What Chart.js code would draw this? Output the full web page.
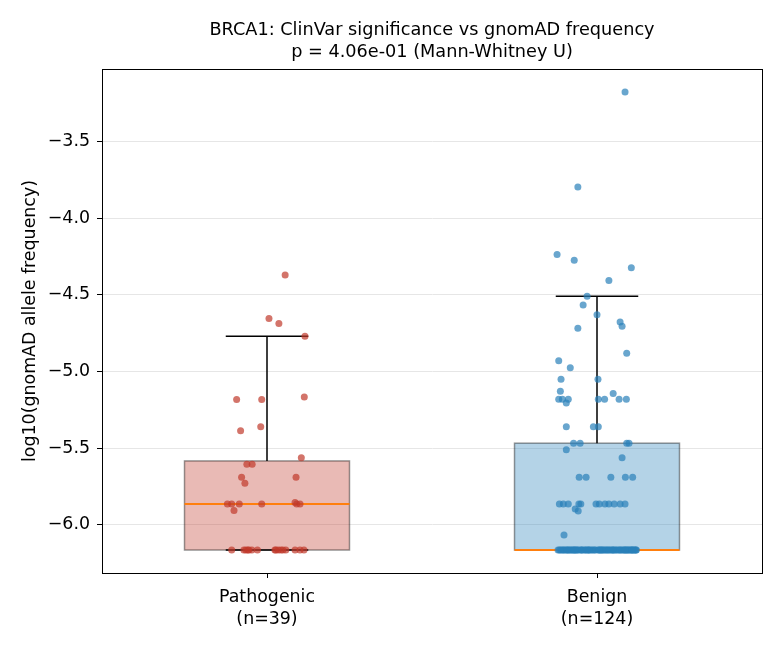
<!DOCTYPE html>
<html>
<head>
<meta charset="utf-8">
<title>BRCA1 ClinVar vs gnomAD</title>
<script src="https://cdn.jsdelivr.net/npm/chart.js@4.4.1/dist/chart.umd.min.js"></script>
<style>
  html, body { margin: 0; padding: 0; background: #fff; }
  #wrap { width: 780px; height: 650px; }
</style>
</head>
<body>
<div id="wrap"><canvas id="chart" width="780" height="650"></canvas></div>
<script>
// --- data ---
const categories = ['Pathogenic', 'Benign'];
const titleLines = ['BRCA1: ClinVar significance vs gnomAD frequency', 'p = 4.06e-01 (Mann-Whitney U)'];
const yAxisLabel = 'log10(gnomAD allele frequency)';
const yTicks = [-6.0, -5.5, -5.0, -4.5, -4.0, -3.5];

const pathogenicValues = [
  -4.370, -4.653, -4.687, -4.770, -5.183, -5.183, -5.166, -5.387, -5.361, -5.563,
  -5.605, -5.605, -5.690, -5.690, -5.730, -5.866, -5.866, -5.866, -5.866, -5.855,
  -5.866, -5.866, -5.907,
  -6.166, -6.166, -6.166, -6.166, -6.166, -6.166, -6.166, -6.166, -6.166, -6.166,
  -6.166, -6.166, -6.166, -6.166, -6.166, -6.166
];
const pathogenicJitter = [
  0.055, 0.006, 0.036, 0.115, -0.092, -0.016, 0.113, -0.080, -0.019, 0.104,
  -0.061, -0.045, -0.077, 0.088, -0.067, -0.120, -0.107, -0.084, -0.016, 0.085,
  0.090, 0.100, -0.100,
  -0.107, -0.064, -0.058, -0.046, -0.029, 0.024, 0.034, 0.042, 0.057, 0.085,
  0.112, -0.055, 0.027, 0.048, 0.100, -0.070
];

const benignValues = [
  -3.174, -3.794, -4.235, -4.274, -4.322, -4.405, -4.509, -4.565, -4.629, -4.676,
  -4.705, -4.718, -4.881, -4.929, -4.976, -5.050, -5.050, -5.129, -5.144, -5.181,
  -5.181, -5.181, -5.181, -5.181, -5.181, -5.181, -5.205, -5.361, -5.361, -5.361,
  -5.468, -5.468, -5.468, -5.468, -5.511, -5.563, -5.690, -5.690, -5.690, -5.690,
  -5.690, -5.866, -5.866, -5.866, -5.866, -5.866, -5.866, -5.866, -5.866, -5.866,
  -5.866, -5.866, -5.866, -5.898, -5.911, -6.068,
  -6.166, -6.166, -6.166, -6.166, -6.166, -6.166, -6.166, -6.166, -6.166, -6.166,
  -6.166, -6.166, -6.166, -6.166, -6.166, -6.166, -6.166, -6.166, -6.166, -6.166,
  -6.166, -6.166, -6.166, -6.166, -6.166, -6.166, -6.166, -6.166, -6.166, -6.166,
  -6.166, -6.166, -6.166, -6.166, -6.166, -6.166, -6.166, -6.166, -6.166, -6.166,
  -6.166, -6.166, -6.166, -6.166, -6.166, -6.166, -6.166, -6.166, -6.166, -6.166,
  -6.166, -6.166, -6.166, -6.166, -6.166, -6.166, -6.166, -6.166, -6.166, -6.166,
  -6.166, -6.166, -6.166, -6.166, -6.166, -6.166, -6.166, -6.166
];
const benignJitter = [
  0.085, -0.058, -0.121, -0.069, 0.104, 0.036, -0.030, -0.042, 0.000, 0.070,
  0.076, -0.058, 0.090, -0.116, -0.081, -0.109, 0.003, -0.111, 0.049, -0.116,
  -0.105, -0.087, 0.004, 0.023, 0.067, 0.089, -0.093, -0.093, -0.011, 0.004,
  -0.071, -0.051, 0.090, 0.097, -0.093, 0.076, -0.054, -0.033, 0.042, 0.086,
  0.108, -0.114, -0.102, -0.087, -0.055, -0.049, -0.003, 0.007, 0.024, 0.036,
  0.052, 0.070, 0.085, -0.066, -0.057, -0.100,
  -0.118, 0.064, -0.031, 0.097, -0.085, 0.012, 0.118, -0.056, 0.041, -0.102,
  0.079, -0.013, 0.026, -0.071, 0.108, -0.044, 0.003, 0.088, -0.094, 0.051,
  -0.022, 0.115, -0.063, 0.033, -0.110, 0.071, -0.005, 0.094, -0.078, 0.018,
  -0.038, 0.059, 0.101, -0.088, 0.009, -0.049, 0.083, -0.114, 0.046, -0.027,
  0.112, -0.066, 0.022, 0.075, -0.099, -0.008, 0.037, -0.059, 0.104, -0.035,
  0.068, -0.081, 0.015, 0.091, -0.106, 0.055, -0.017, 0.030, -0.074, 0.119,
  -0.047, 0.006, 0.085, -0.091, 0.048, -0.025, 0.107, -0.068
];

const FONT = "'DejaVu Sans', sans-serif";
const BOX_HALF = 0.25;
const CAP_HALF = 0.125;

const groups = [
  { values: pathogenicValues, jitter: pathogenicJitter, point: 'rgba(192, 57, 43, 0.7)', box: 'rgba(192, 57, 43, 0.35)' },
  { values: benignValues, jitter: benignJitter, point: 'rgba(41, 128, 185, 0.7)', box: 'rgba(41, 128, 185, 0.35)' },
];

// matplotlib-style percentile (linear)
function quantile(sorted, q) {
  const pos = (sorted.length - 1) * q;
  const lo = Math.floor(pos), hi = Math.ceil(pos);
  return sorted[lo] + (sorted[hi] - sorted[lo]) * (pos - lo);
}

function boxStats(values) {
  const s = [...values].sort((a, b) => a - b);
  const q1 = quantile(s, 0.25), med = quantile(s, 0.5), q3 = quantile(s, 0.75);
  const iqr = q3 - q1;
  const whiskHi = Math.max(...s.filter(v => v <= q3 + 1.5 * iqr));
  const whiskLo = Math.min(...s.filter(v => v >= q1 - 1.5 * iqr));
  return { q1, med, q3, whiskLo, whiskHi };
}

// box + whiskers under the points
const boxPlugin = {
  id: 'boxes',
  beforeDatasetsDraw(chart) {
    const { ctx, scales: { x, y } } = chart;
    groups.forEach((g, i) => {
      const st = boxStats(g.values);
      const xl = x.getPixelForValue(i - BOX_HALF);
      const xr = x.getPixelForValue(i + BOX_HALF);
      const xc = x.getPixelForValue(i);
      const cl = x.getPixelForValue(i - CAP_HALF);
      const cr = x.getPixelForValue(i + CAP_HALF);
      const yq1 = y.getPixelForValue(st.q1);
      const yq3 = y.getPixelForValue(st.q3);
      const ymed = y.getPixelForValue(st.med);
      const yhi = y.getPixelForValue(st.whiskHi);
      const ylo = y.getPixelForValue(st.whiskLo);

      ctx.save();
      ctx.fillStyle = g.box;
      ctx.fillRect(xl, yq3, xr - xl, yq1 - yq3);
      ctx.strokeStyle = 'rgba(0, 0, 0, 0.4)';
      ctx.lineWidth = 1.5;
      ctx.strokeRect(xl, yq3, xr - xl, yq1 - yq3);

      ctx.strokeStyle = '#000';
      ctx.lineWidth = 1.5;
      ctx.beginPath();
      ctx.moveTo(xc, yq3); ctx.lineTo(xc, yhi);
      ctx.moveTo(xc, yq1); ctx.lineTo(xc, ylo);
      ctx.moveTo(cl, yhi); ctx.lineTo(cr, yhi);
      ctx.moveTo(cl, ylo); ctx.lineTo(cr, ylo);
      ctx.stroke();

      ctx.strokeStyle = '#ff7f0e';
      ctx.lineWidth = 2;
      ctx.beginPath();
      ctx.moveTo(xl, ymed); ctx.lineTo(xr, ymed);
      ctx.stroke();
      ctx.restore();
    });
  }
};

// axes frame + title centred over the axes
const framePlugin = {
  id: 'frame',
  afterDraw(chart) {
    const { ctx, chartArea: a } = chart;
    ctx.save();
    ctx.strokeStyle = '#000';
    ctx.lineWidth = 1;
    ctx.strokeRect(Math.round(a.left) + 0.5, Math.round(a.top) + 0.5,
      Math.round(a.right - a.left), Math.round(a.bottom - a.top));
    ctx.fillStyle = '#000';
    ctx.font = '17.7px ' + FONT;
    ctx.textAlign = 'center';
    ctx.textBaseline = 'middle';
    const cx = (a.left + a.right) / 2;
    titleLines.forEach((t, i) => ctx.fillText(t, cx, 30 + i * 22));
    ctx.restore();
  }
};

const datasets = groups.map((g, i) => ({
  type: 'scatter',
  label: categories[i],
  data: g.values.map((v, k) => ({ x: i + g.jitter[k], y: v })),
  pointRadius: 3.5,
  pointHoverRadius: 3.5,
  pointBackgroundColor: g.point,
  pointBorderWidth: 0,
}));

new Chart(document.getElementById('chart'), {
  type: 'scatter',
  data: { datasets },
  plugins: [boxPlugin, framePlugin],
  options: {
    responsive: false,
    animation: false,
    layout: { padding: { top: 69, right: 18, bottom: 0, left: 0 } },
    plugins: {
      legend: { display: false },
      tooltip: { enabled: false },
      title: { display: false },
    },
    scales: {
      x: {
        type: 'linear',
        min: -0.5,
        max: 1.5,
        afterBuildTicks: s => { s.ticks = [{ value: 0 }, { value: 1 }]; },
        afterFit: s => { s.height = 77; },
        ticks: {
          color: '#000',
          font: { family: FONT, size: 17.4, lineHeight: 1.27 },
          padding: 8,
          maxRotation: 0,
          callback: v => [categories[v], '(n=' + groups[v].values.length + ')'],
        },
        grid: { drawOnChartArea: false, tickColor: '#000', tickLength: 5 },
        border: { color: '#000', width: 1 },
      },
      y: {
        min: -6.316,
        max: -3.024,
        afterBuildTicks: s => { s.ticks = yTicks.map(v => ({ value: v })); },
        afterFit: s => { s.width = 102; },
        ticks: {
          color: '#000',
          font: { family: FONT, size: 17.4 },
          padding: 7,
          callback: v => (v < 0 ? '\u2212' : '') + Math.abs(v).toFixed(1),
        },
        grid: { color: '#e6e6e6', lineWidth: 1, tickColor: '#000', tickLength: 5 },
        border: { color: '#000', width: 1 },
        title: {
          display: true,
          text: yAxisLabel,
          color: '#000',
          font: { family: FONT, size: 17.4 },
          padding: { top: 20, bottom: 0 },
        },
      },
    },
  },
});
</script>
</body>
</html>
